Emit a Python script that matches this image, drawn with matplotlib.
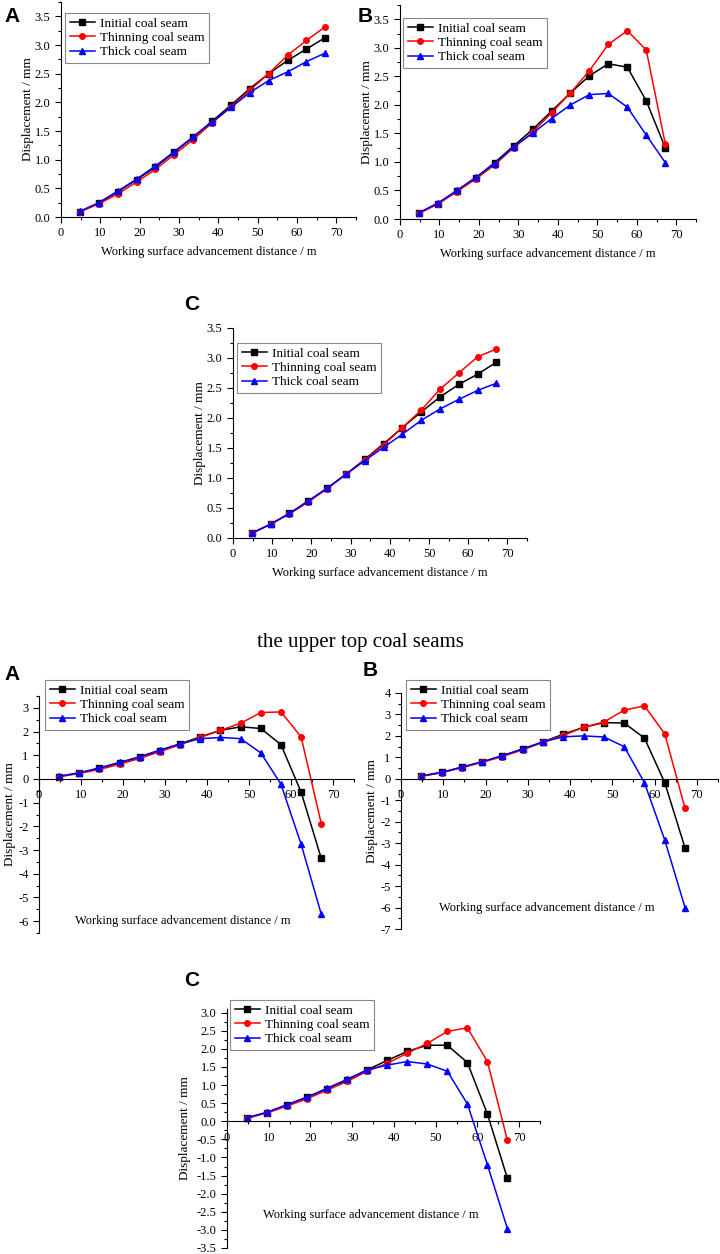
import numpy as np
import matplotlib
matplotlib.use("Agg")
import matplotlib.pyplot as plt
from matplotlib.ticker import MultipleLocator, FormatStrFormatter
from matplotlib.transforms import blended_transform_factory

plt.rcParams['font.family'] = ['Liberation Serif', 'DejaVu Serif']
plt.rcParams['axes.unicode_minus'] = False

# advancement distance (m)
dist = [4.8, 9.6, 14.4, 19.2, 24.0, 28.8, 33.6, 38.4, 43.2, 48.0, 52.8, 57.6, 62.4, 67.2]

labels = ["Initial coal seam", "Thinning coal seam", "Thick coal seam"]

# top group
topA_initial = [0.09, 0.24, 0.44, 0.65, 0.87, 1.13, 1.39, 1.67, 1.95, 2.24, 2.50, 2.73, 2.93, 3.13]
topA_thin = [0.09, 0.23, 0.40, 0.61, 0.83, 1.09, 1.35, 1.64, 1.92, 2.21, 2.50, 2.82, 3.08, 3.32]
topA_thick = [0.10, 0.25, 0.45, 0.66, 0.89, 1.14, 1.40, 1.66, 1.91, 2.17, 2.38, 2.53, 2.71, 2.86]

topB_initial = [0.10, 0.27, 0.49, 0.72, 0.99, 1.28, 1.57, 1.89, 2.21, 2.51, 2.72, 2.66, 2.07, 1.25]
topB_thin = [0.10, 0.26, 0.48, 0.70, 0.95, 1.25, 1.52, 1.86, 2.21, 2.60, 3.06, 3.30, 2.96, 1.32]
topB_thick = [0.11, 0.28, 0.50, 0.73, 0.97, 1.27, 1.50, 1.76, 2.00, 2.18, 2.20, 1.96, 1.47, 0.99]

topC_initial = [0.08, 0.23, 0.41, 0.61, 0.83, 1.06, 1.31, 1.57, 1.84, 2.10, 2.35, 2.56, 2.73, 2.93]
topC_thin = [0.08, 0.23, 0.40, 0.60, 0.82, 1.06, 1.30, 1.55, 1.84, 2.13, 2.48, 2.75, 3.02, 3.15]
topC_thick = [0.08, 0.23, 0.41, 0.62, 0.83, 1.06, 1.29, 1.51, 1.73, 1.96, 2.15, 2.31, 2.46, 2.58]

# bottom group (upper top coal seams)
botA_initial = [0.10, 0.25, 0.45, 0.68, 0.92, 1.20, 1.48, 1.78, 2.05, 2.20, 2.13, 1.45, -0.55, -3.35]
botA_thin = [0.10, 0.23, 0.40, 0.62, 0.87, 1.15, 1.45, 1.75, 2.05, 2.35, 2.80, 2.83, 1.78, -1.88]
botA_thick = [0.12, 0.26, 0.47, 0.70, 0.94, 1.22, 1.48, 1.70, 1.75, 1.70, 1.10, -0.22, -2.75, -5.70]

botB_initial = [0.12, 0.30, 0.53, 0.78, 1.07, 1.38, 1.72, 2.08, 2.40, 2.62, 2.60, 1.90, -0.18, -3.22]
botB_thin = [0.12, 0.28, 0.52, 0.77, 1.04, 1.35, 1.70, 2.02, 2.40, 2.65, 3.20, 3.40, 2.10, -1.38]
botB_thick = [0.14, 0.30, 0.55, 0.80, 1.08, 1.40, 1.72, 1.96, 2.00, 1.95, 1.50, -0.18, -2.85, -6.00]

botC_initial = [0.08, 0.24, 0.45, 0.66, 0.90, 1.14, 1.42, 1.68, 1.93, 2.10, 2.10, 1.62, 0.20, -1.58]
botC_thin = [0.10, 0.23, 0.42, 0.62, 0.86, 1.10, 1.38, 1.60, 1.88, 2.15, 2.48, 2.58, 1.65, -0.53]
botC_thick = [0.10, 0.25, 0.46, 0.67, 0.91, 1.16, 1.42, 1.55, 1.65, 1.58, 1.38, 0.48, -1.20, -2.97]

colors = ["black", "red", "blue"]
markers = ["s", "o", "^"]
fs = 9

fig = plt.figure(figsize=(7.2, 12.54), dpi=100)


def draw(rect, series, ylim, ymaj, ymin, leg_xy, letter_xy, letter, bottom_style=False,
         xlab_xy=None, ylab_x=None):
    ax = fig.add_axes(rect)
    for vals, c, m, lab in zip(series, colors, markers, labels):
        ax.plot(dist, vals, color=c, marker=m, markersize=4, linewidth=1.1, label=lab)
    ax.set_xlim(0, 75)
    ax.set_ylim(*ylim)
    ax.xaxis.set_minor_locator(MultipleLocator(5))
    ax.yaxis.set_major_locator(MultipleLocator(ymaj))
    ax.yaxis.set_minor_locator(MultipleLocator(ymin))
    ax.set_xticks(np.arange(0, 71, 10))
    ax.spines['top'].set_visible(False)
    ax.spines['right'].set_visible(False)
    ax.tick_params(which='both', direction='out', labelsize=fs, width=0.8)
    ax.tick_params(which='major', length=4)
    ax.tick_params(which='minor', length=2)
    if ymaj == 0.5:
        ax.yaxis.set_major_formatter(FormatStrFormatter('%.1f'))
    if bottom_style:
        ax.spines['bottom'].set_position(('data', 0))
        ax.text(xlab_xy[0], xlab_xy[1], "Working surface advancement distance / m",
                fontsize=fs, ha='center', va='center')
    else:
        ax.set_xlabel("Working surface advancement distance / m", fontsize=fs, labelpad=5)
    ax.set_ylabel("Displacement / mm", fontsize=fs + 0.5, va='center')
    ax.yaxis.set_label_coords(ylab_x, 0.5,
                              transform=blended_transform_factory(fig.transFigure, ax.transAxes))
    leg = ax.legend(loc='upper left', bbox_to_anchor=leg_xy, bbox_transform=fig.transFigure,
                    borderaxespad=0, fontsize=fs + 0.5, fancybox=False, framealpha=1,
                    edgecolor='#888888', handlelength=1.9, labelspacing=0.15,
                    borderpad=0.35, handletextpad=0.4)
    leg.get_frame().set_linewidth(0.8)
    fig.text(letter_xy[0], letter_xy[1], letter, fontsize=15, fontweight='bold',
             family='Liberation Sans', ha='center', va='center')
    return ax


W, H = 720.0, 1254.0

draw([61 / W, 1 - 217 / H, 295 / W, 215 / H],
     [topA_initial, topA_thin, topA_thick], (0, 3.75), 0.5, 0.25,
     (65 / W, 1 - 13 / H), (12 / W, 1 - 16 / H), "A", ylab_x=28 / W)
draw([400 / W, 1 - 219 / H, 296 / W, 214 / H],
     [topB_initial, topB_thin, topB_thick], (0, 3.75), 0.5, 0.25,
     (403 / W, 1 - 18 / H), (365 / W, 1 - 16 / H), "B", ylab_x=367 / W)
draw([233 / W, 1 - 538 / H, 294 / W, 210 / H],
     [topC_initial, topC_thin, topC_thick], (0, 3.5), 0.5, 0.25,
     (237 / W, 1 - 343 / H), (192 / W, 1 - 305 / H), "C", ylab_x=200 / W)

fig.text(0.5, 1 - 642 / H, "the upper top coal seams", fontsize=15, ha='center', va='center')

draw([39 / W, 1 - 933 / H, 315 / W, 237 / H],
     [botA_initial, botA_thin, botA_thick], (-6.5, 3.5), 1, 0.5,
     (45 / W, 1 - 680 / H), (12 / W, 1 - 674 / H), "A", bottom_style=True,
     xlab_xy=(34.3, -6.0), ylab_x=10 / W)
draw([401 / W, 1 - 929 / H, 317 / W, 236 / H],
     [botB_initial, botB_thin, botB_thick], (-7, 4), 1, 0.5,
     (406 / W, 1 - 680 / H), (370 / W, 1 - 670 / H), "B", bottom_style=True,
     xlab_xy=(34.5, -6.0), ylab_x=372 / W)
draw([227 / W, 1 - 1248 / H, 313 / W, 239 / H],
     [botC_initial, botC_thin, botC_thick], (-3.5, 3.1), 0.5, 0.25,
     (230 / W, 1 - 1000 / H), (192 / W, 1 - 980 / H), "C", bottom_style=True,
     xlab_xy=(34.4, -2.6), ylab_x=185 / W)

fig.savefig("out.png", dpi=100)
